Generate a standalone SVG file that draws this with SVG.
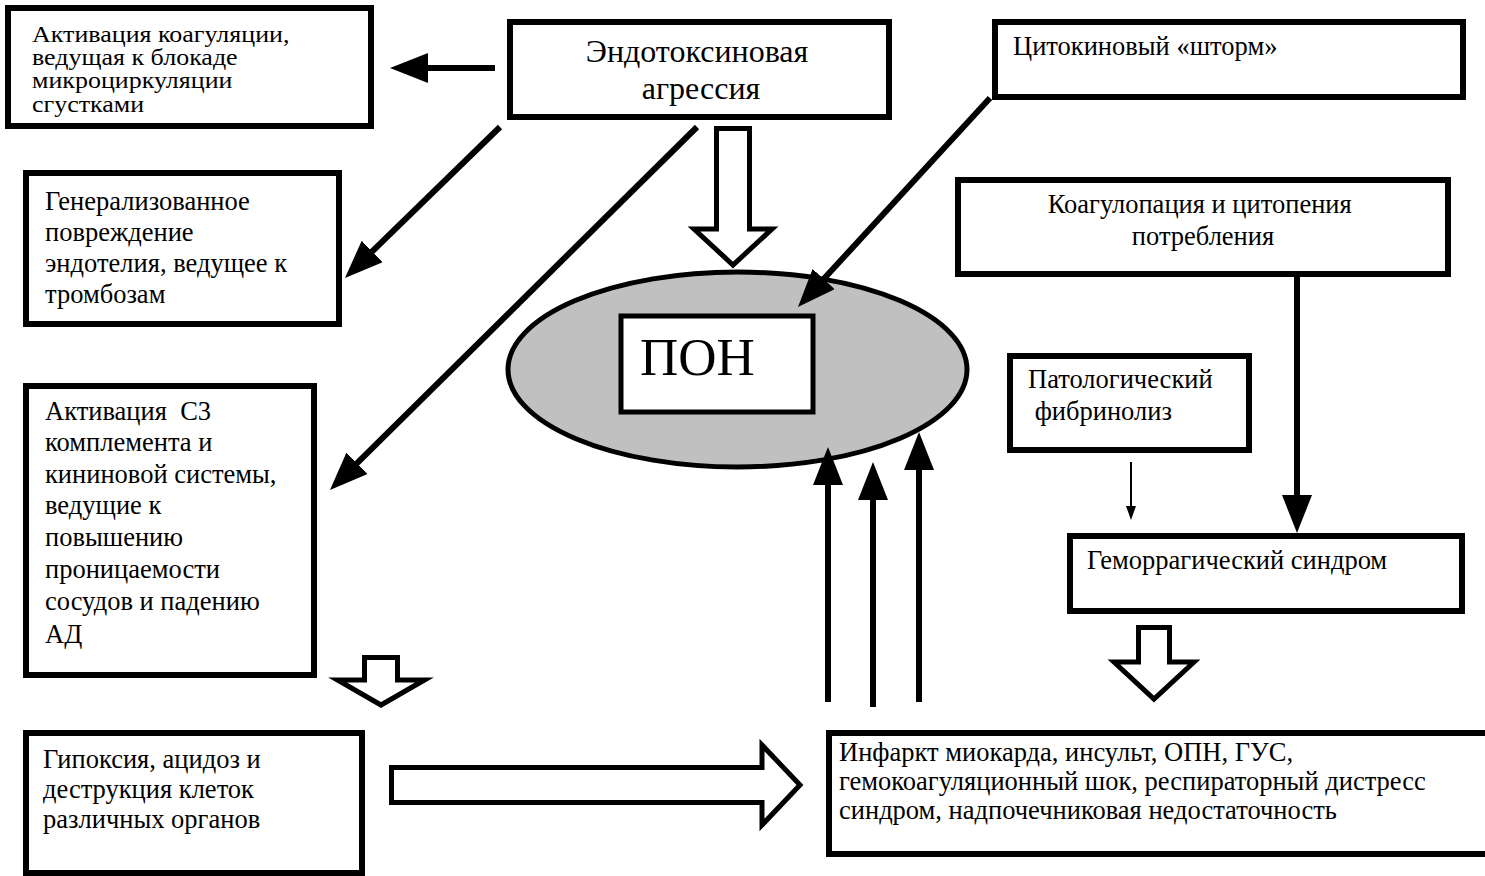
<svg xmlns="http://www.w3.org/2000/svg" width="1485" height="876" viewBox="0 0 1485 876">
  <style>
    .box { fill: #ffffff; stroke: #000000; stroke-width: 6; }
    .t { font-family: "Liberation Serif", "Times New Roman", serif; fill: #000000; font-size: 26.5px; }
    .link { stroke: #000000; stroke-width: 6; fill: none; marker-end: url(#head); }
    .thin { stroke: #000000; stroke-width: 2; fill: none; marker-end: url(#head-sm); }
    .hollow { fill: #ffffff; stroke: #000000; stroke-width: 5; stroke-linejoin: miter; }
  </style>
  <defs>
    <marker id="head" markerUnits="userSpaceOnUse" viewBox="0 0 38 30" markerWidth="38" markerHeight="30" refX="18" refY="15" orient="auto">
      <path d="M0,0 L38,15 L0,30 z" fill="#000000"/>
    </marker>
    <marker id="head-sm" markerUnits="userSpaceOnUse" viewBox="0 0 14 10" markerWidth="14" markerHeight="10" refX="8" refY="5" orient="auto">
      <path d="M0,0 L14,5 L0,10 z" fill="#000000"/>
    </marker>
  </defs>
  <rect width="1485" height="876" fill="#ffffff"/>

  <!-- central ellipse with the ПОН label -->
  <g id="pon">
    <ellipse cx="737.5" cy="369.5" rx="229.5" ry="97.5" fill="#c0c0c0" stroke="#000000" stroke-width="5"/>
    <rect x="621" y="316" width="192" height="96" fill="#ffffff" stroke="#000000" stroke-width="5"/>
    <text class="t" x="640" y="375" style="font-size:53px">ПОН</text>
  </g>

  <g id="coagulation">
    <rect class="box" x="8" y="8" width="363" height="118"/>
    <!-- tight four-line block, widened horizontally -->
    <g transform="translate(32,0) scale(1.13,1)">
      <text class="t" style="font-size:23px">
        <tspan x="0" y="42">Активация коагуляции,</tspan>
        <tspan x="0" y="65">ведущая к блокаде</tspan>
        <tspan x="0" y="88">микроциркуляции</tspan>
        <tspan x="0" y="112">сгустками</tspan>
      </text>
    </g>
  </g>

  <g id="endotoxin">
    <rect class="box" x="510" y="22" width="379" height="95"/>
    <text class="t" text-anchor="middle" style="font-size:32px">
      <tspan x="701" y="62">Эндотоксиновая</tspan>
      <tspan x="701" y="99">агрессия</tspan>
    </text>
  </g>

  <g id="cytokine">
    <rect class="box" x="995" y="22" width="468" height="75"/>
    <text class="t" x="1013" y="55">Цитокиновый «шторм»</text>
  </g>

  <g id="endothelium">
    <rect class="box" x="26" y="173" width="313" height="151"/>
    <text class="t">
      <tspan x="45" y="210">Генерализованное</tspan>
      <tspan x="45" y="241">повреждение</tspan>
      <tspan x="45" y="272">эндотелия, ведущее к</tspan>
      <tspan x="45" y="303">тромбозам</tspan>
    </text>
  </g>

  <g id="consumption">
    <rect class="box" x="958" y="180" width="490" height="94"/>
    <text class="t" text-anchor="middle">
      <tspan x="1203" y="213">Коагулопация и цитопения</tspan>
      <tspan x="1203" y="245">потребления</tspan>
    </text>
  </g>

  <g id="fibrinolysis">
    <rect class="box" x="1010" y="356" width="239" height="94"/>
    <text class="t" style="white-space:pre">
      <tspan x="1028" y="388">Патологический</tspan>
      <tspan x="1028" y="420"> фибринолиз</tspan>
    </text>
  </g>

  <g id="complement">
    <rect class="box" x="26" y="386" width="288" height="289"/>
    <text class="t" style="white-space:pre">
      <tspan x="45" y="420">Активация  С3</tspan>
      <tspan x="45" y="451">комплемента и</tspan>
      <tspan x="45" y="483">кининовой системы,</tspan>
      <tspan x="45" y="514">ведущие к</tspan>
      <tspan x="45" y="546">повышению</tspan>
      <tspan x="45" y="578">проницаемости</tspan>
      <tspan x="45" y="610">сосудов и падению</tspan>
      <tspan x="45" y="643">АД</tspan>
    </text>
  </g>

  <g id="hemorrhagic">
    <rect class="box" x="1070" y="536" width="392" height="75"/>
    <text class="t" x="1087" y="569">Геморрагический синдром</text>
  </g>

  <g id="hypoxia">
    <rect class="box" x="26" y="733" width="336" height="140"/>
    <text class="t">
      <tspan x="43" y="768">Гипоксия, ацидоз и</tspan>
      <tspan x="43" y="798">деструкция клеток</tspan>
      <tspan x="43" y="828">различных органов</tspan>
    </text>
  </g>

  <g id="outcomes">
    <rect class="box" x="829" y="733" width="670" height="121"/>
    <text class="t">
      <tspan x="839" y="761">Инфаркт миокарда, инсульт, ОПН, ГУС,</tspan>
      <tspan x="839" y="790">гемокоагуляционный шок, респираторный дистресс</tspan>
      <tspan x="839" y="819">синдром, надпочечниковая недостаточность</tspan>
    </text>
  </g>

  <!-- connectors -->
  <g id="connectors">
    <line class="link" x1="495" y1="68" x2="410" y2="68"/>
    <line class="link" x1="500" y1="127" x2="359.3" y2="264"/>
    <line class="link" x1="697" y1="127" x2="344.2" y2="475.9"/>
    <line class="link" x1="990" y1="98" x2="811.5" y2="292.3"/>
    <line class="link" x1="828" y1="702" x2="828" y2="467"/>
    <line class="link" x1="873" y1="707" x2="873" y2="482"/>
    <line class="link" x1="919" y1="702" x2="919" y2="452"/>
    <line class="link" x1="1297" y1="277" x2="1297" y2="513"/>
    <line class="thin" x1="1131" y1="462" x2="1131" y2="514"/>

    <!-- block arrows -->
    <polygon class="hollow" points="716.5,128.5 749.5,128.5 749.5,229 772,229 733,265 694,229 716.5,229"/>
    <polygon class="hollow" points="364.5,657.5 397.5,657.5 397.5,680 424.5,680 381,705 337.5,680 364.5,680"/>
    <polygon class="hollow" points="391.5,767.5 762,767.5 762,745 800,785 762,825 762,802.5 391.5,802.5"/>
    <polygon class="hollow" points="1138.5,627.5 1169.5,627.5 1169.5,662 1194,662 1154,699 1114,662 1138.5,662"/>
  </g>
</svg>
